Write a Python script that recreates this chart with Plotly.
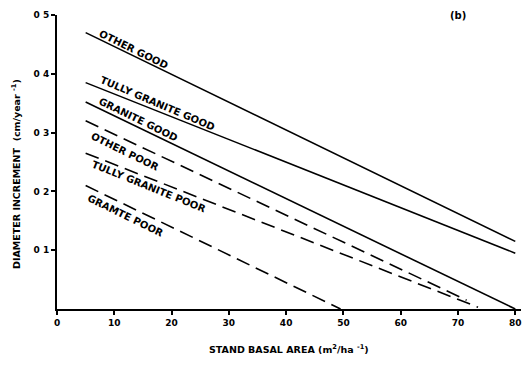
import plotly.graph_objects as go

# Data: each series is a straight line given by its two end points
series_names = ["OTHER GOOD", "TULLY GRANITE GOOD", "GRANITE GOOD",
                "OTHER POOR", "TULLY GRANITE POOR", "GRAMTE POOR"]
x_start = [5, 5, 5, 5, 5, 5]
y_start = [0.47, 0.385, 0.352, 0.32, 0.265, 0.21]
x_end = [80, 80, 80, 71.5, 73.5, 49.5]
y_end = [0.115, 0.095, 0.0, 0.015, 0.003, 0.0]
dashed = [False, False, False, True, True, True]

x_ticks = [0, 10, 20, 30, 40, 50, 60, 70, 80]
y_ticks = [0.1, 0.2, 0.3, 0.4, 0.5]
y_tick_labels = ["0 1", "0 2", "0 3", "0 4", "0 5"]

# label positions (data coords) and angles
label_pos = [(13.4, 0.441, 26), (17.6, 0.350, 23), (14.2, 0.322, 26),
             (11.8, 0.268, 26), (16.0, 0.209, 22), (11.9, 0.159, 26)]

fig = go.Figure()
for i, name in enumerate(series_names):
    fig.add_trace(go.Scatter(
        x=[x_start[i], x_end[i]], y=[y_start[i], y_end[i]],
        mode="lines", name=name, showlegend=False,
        line=dict(color="black", width=1.6,
                  dash="14px,7px" if dashed[i] else "solid")))

font_lbl = dict(family="DejaVu Sans", size=10, color="black")
for (lx, ly, ang), name in zip(label_pos, series_names):
    fig.add_annotation(x=lx, y=ly, text="<b>%s</b>" % name, textangle=ang,
                       showarrow=False, font=font_lbl)

fig.add_annotation(xref="paper", yref="paper", x=0.886, y=1.0, yanchor="middle",
                   text="<b>(b)</b>", showarrow=False,
                   font=dict(family="DejaVu Sans", size=10, color="black"))
fig.add_annotation(xref="paper", yref="paper", x=0.5, y=-0.135, yanchor="middle",
                   text="<b>STAND BASAL AREA (m<sup>2</sup>/ha <sup>-1</sup>)</b>",
                   showarrow=False,
                   font=dict(family="DejaVu Sans", size=9.5, color="black"))
fig.add_annotation(xref="paper", yref="paper", x=-0.088, y=0.46, xanchor="center",
                   yanchor="middle",
                   text="<b>DIAMETER INCREMENT  (cm/year <sup>-1</sup>)</b>",
                   textangle=-90, showarrow=False,
                   font=dict(family="DejaVu Sans", size=9.5, color="black"))

fig.update_xaxes(range=[0, 81], tickvals=x_ticks,
                 ticktext=["<b>%d</b>" % v for v in x_ticks],
                 ticks="outside", ticklen=4,
                 tickwidth=1.5, tickcolor="black", showline=True, linecolor="black",
                 linewidth=2, showgrid=False, zeroline=False,
                 tickfont=dict(family="DejaVu Sans", size=9, color="black"))
fig.update_yaxes(range=[0, 0.5], tickvals=y_ticks,
                 ticktext=["<b>%s</b>" % t for t in y_tick_labels],
                 ticks="outside", ticklen=4, tickwidth=1.5, tickcolor="black",
                 showline=True, linecolor="black", linewidth=2, showgrid=False,
                 zeroline=False,
                 tickfont=dict(family="DejaVu Sans", size=9, color="black"))

fig.update_layout(width=532, height=366, plot_bgcolor="white", paper_bgcolor="white",
                  margin=dict(l=57, r=10, t=12, b=57))
fig.write_html("out.html")
